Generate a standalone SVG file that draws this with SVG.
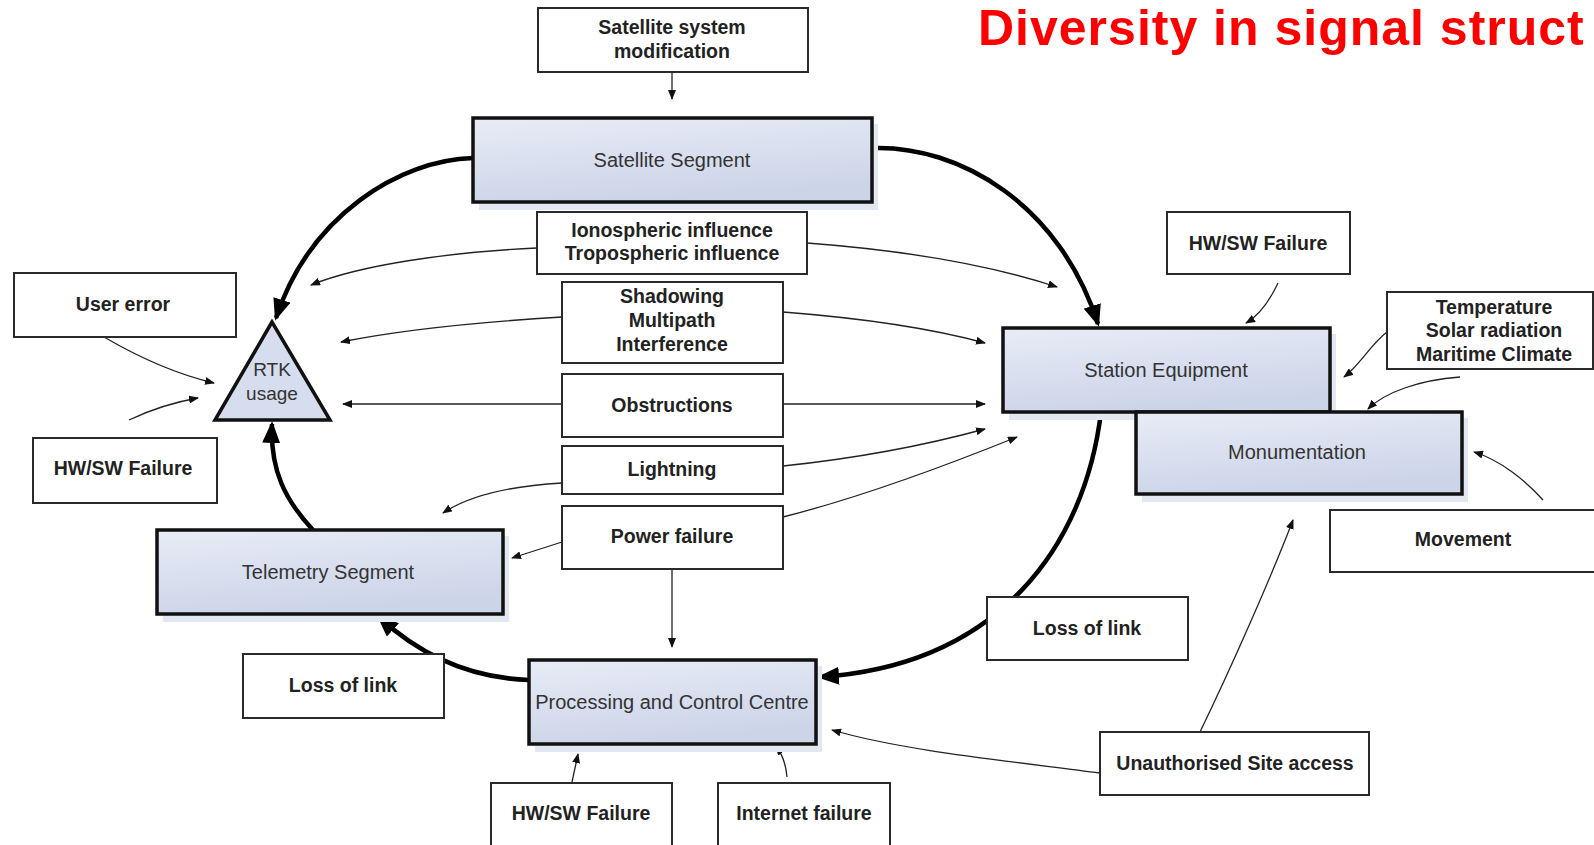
<svg xmlns="http://www.w3.org/2000/svg" width="1594" height="845" viewBox="0 0 1594 845">
<defs>
<linearGradient id="segfill" x1="0" y1="0" x2="0.3" y2="1">
<stop offset="0" stop-color="#e8ecf6"/>
<stop offset="1" stop-color="#ccd4e8"/>
</linearGradient>
<marker id="big" markerUnits="userSpaceOnUse" markerWidth="22" markerHeight="18" refX="19" refY="9" orient="auto">
<path d="M0,0 L22,9 L0,18 z" fill="#000"/>
</marker>
<marker id="small" markerUnits="userSpaceOnUse" markerWidth="10" markerHeight="8" refX="9" refY="4" orient="auto">
<path d="M0,0 L10,4 L0,8 z" fill="#111"/>
</marker>
<style>
.box{fill:#fff;stroke:#2a2a2a;stroke-width:2}
.seg{fill:url(#segfill);stroke:#111;stroke-width:3.5}
.shadow{fill:#e2e7f1}
.lbl{font-family:"Liberation Sans",Arial,sans-serif;font-weight:bold;font-size:19.5px;fill:#222;text-anchor:middle}
.seglbl{font-family:"Liberation Sans",Arial,sans-serif;font-size:20px;fill:#333;text-anchor:middle}
.thick{fill:none;stroke:#000;stroke-width:4.5;marker-end:url(#big)}
.thin{fill:none;stroke:#222;stroke-width:1.3;marker-end:url(#small)}
.title{font-family:"Liberation Sans",Arial,sans-serif;font-weight:bold;font-size:50px;letter-spacing:1px;fill:#ff0000}
</style>
</defs>
<rect width="1594" height="845" fill="#fff"/>

<text class="title" x="978" y="45">Diversity in signal struct</text>

<g id="connectors">
<path class="thick" d="M473,158 C400,160 310,215 276,318"/>
<path class="thick" d="M872,148 C960,145 1060,205 1098,324"/>
<path class="thick" d="M1101,412 C1085,545 1000,665 820,677"/>
<path class="thick" d="M529,680 C470,678 420,655 379,617"/>
<path class="thick" d="M313,530 C285,500 270,470 272,424"/>

<path class="thin" d="M672,72 L672,99"/>
<path class="thin" d="M537,248 C450,252 360,265 311,285"/>
<path class="thin" d="M807,243 C900,250 990,265 1057,287"/>
<path class="thin" d="M562,317 C480,322 400,330 341,342"/>
<path class="thin" d="M783,312 C860,318 930,328 985,343"/>
<path class="thin" d="M562,404 L343,404"/>
<path class="thin" d="M783,404 L985,404"/>
<path class="thin" d="M562,483 C510,486 470,495 443,513"/>
<path class="thin" d="M783,466 C860,458 930,444 985,429"/>
<path class="thin" d="M783,517 C870,495 960,460 1017,437"/>
<path class="thin" d="M562,542 L512,558"/>
<path class="thin" d="M672,569 L672,647"/>
<path class="thin" d="M104,337 C140,358 180,375 214,383"/>
<path class="thin" d="M129,420 C150,410 175,402 198,398"/>
<path class="thin" d="M1278,283 C1270,300 1260,315 1246,323"/>
<path class="thin" d="M1387,332 C1370,345 1360,365 1344,377"/>
<path class="thin" d="M1460,377 C1420,380 1385,392 1368,409"/>
<path class="thin" d="M1543,500 C1525,480 1500,460 1474,452"/>
<path class="thin" d="M1200,732 C1230,670 1270,580 1293,520"/>
<path class="thin" d="M1100,773 C1000,760 900,750 832,730"/>
<path class="thin" d="M572,782 L578,754"/>
<path class="thin" d="M787,777 C786,764 782,754 776,746"/>
</g>

<g id="sysmod">
<rect class="box" x="538" y="8" width="270" height="64"/>
<text class="lbl" x="672" y="34">Satellite system</text>
<text class="lbl" x="672" y="58">modification</text>
</g>

<g id="satseg">
<rect class="shadow" x="479" y="124" width="399" height="86"/>
<rect class="seg" x="473" y="118" width="399" height="84"/>
<text class="seglbl" x="672" y="167">Satellite Segment</text>
</g>

<g id="iono">
<rect class="box" x="537" y="212" width="270" height="62"/>
<text class="lbl" x="672" y="237">Ionospheric influence</text>
<text class="lbl" x="672" y="260">Tropospheric influence</text>
</g>

<g id="shadowing">
<rect class="box" x="562" y="282" width="221" height="81"/>
<text class="lbl" x="672" y="303">Shadowing</text>
<text class="lbl" x="672" y="327">Multipath</text>
<text class="lbl" x="672" y="351">Interference</text>
</g>

<g id="obstructions">
<rect class="box" x="562" y="374" width="221" height="63"/>
<text class="lbl" x="672" y="412">Obstructions</text>
</g>

<g id="lightning">
<rect class="box" x="562" y="446" width="221" height="48"/>
<text class="lbl" x="672" y="476">Lightning</text>
</g>

<g id="power">
<rect class="box" x="562" y="506" width="221" height="63"/>
<text class="lbl" x="672" y="543">Power failure</text>
</g>

<g id="usererror">
<rect class="box" x="14" y="273" width="222" height="64"/>
<text class="lbl" x="123" y="311">User error</text>
</g>

<g id="hwsw-left">
<rect class="box" x="33" y="438" width="184" height="65"/>
<text class="lbl" x="123" y="475">HW/SW Failure</text>
</g>

<g id="rtk">
<polygon points="272,322 215,420 330,420" fill="#d6ddee" stroke="#111" stroke-width="3.5" stroke-linejoin="miter"/>
<text class="seglbl" x="272" y="376" style="font-size:19px">RTK</text>
<text class="seglbl" x="272" y="400" style="font-size:19px">usage</text>
</g>

<g id="hwsw-station">
<rect class="box" x="1167" y="212" width="183" height="62"/>
<text class="lbl" x="1258" y="250">HW/SW Failure</text>
</g>

<g id="station">
<rect class="shadow" x="1009" y="334" width="327" height="86"/>
<rect class="seg" x="1003" y="328" width="327" height="84"/>
<text class="seglbl" x="1166" y="377">Station Equipment</text>
</g>

<g id="monumentation">
<rect class="shadow" x="1142" y="418" width="326" height="84"/>
<rect class="seg" x="1136" y="412" width="326" height="82"/>
<text class="seglbl" x="1297" y="459">Monumentation</text>
</g>

<g id="temperature">
<rect class="box" x="1387" y="292" width="206" height="77"/>
<text class="lbl" x="1494" y="314">Temperature</text>
<text class="lbl" x="1494" y="337">Solar radiation</text>
<text class="lbl" x="1494" y="361">Maritime Climate</text>
</g>

<g id="movement">
<rect class="box" x="1330" y="510" width="280" height="62"/>
<text class="lbl" x="1463" y="546">Movement</text>
</g>

<g id="telemetry">
<rect class="shadow" x="163" y="536" width="346" height="86"/>
<rect class="seg" x="157" y="530" width="346" height="84"/>
<text class="seglbl" x="328" y="579">Telemetry Segment</text>
</g>

<g id="processing">
<rect class="shadow" x="535" y="666" width="287" height="86"/>
<rect class="seg" x="529" y="660" width="287" height="84"/>
<text class="seglbl" x="672" y="709">Processing and Control Centre</text>
</g>

<g id="loss-left">
<rect class="box" x="243" y="654" width="201" height="64"/>
<text class="lbl" x="343" y="692">Loss of link</text>
</g>

<g id="loss-right">
<rect class="box" x="987" y="597" width="201" height="63"/>
<text class="lbl" x="1087" y="635">Loss of link</text>
</g>

<g id="unauth">
<rect class="box" x="1100" y="732" width="269" height="63"/>
<text class="lbl" x="1235" y="770">Unauthorised Site access</text>
</g>

<g id="hwsw-bottom">
<rect class="box" x="491" y="783" width="181" height="75"/>
<text class="lbl" x="581" y="820">HW/SW Failure</text>
</g>

<g id="internet">
<rect class="box" x="718" y="783" width="172" height="75"/>
<text class="lbl" x="804" y="820">Internet failure</text>
</g>
</svg>
